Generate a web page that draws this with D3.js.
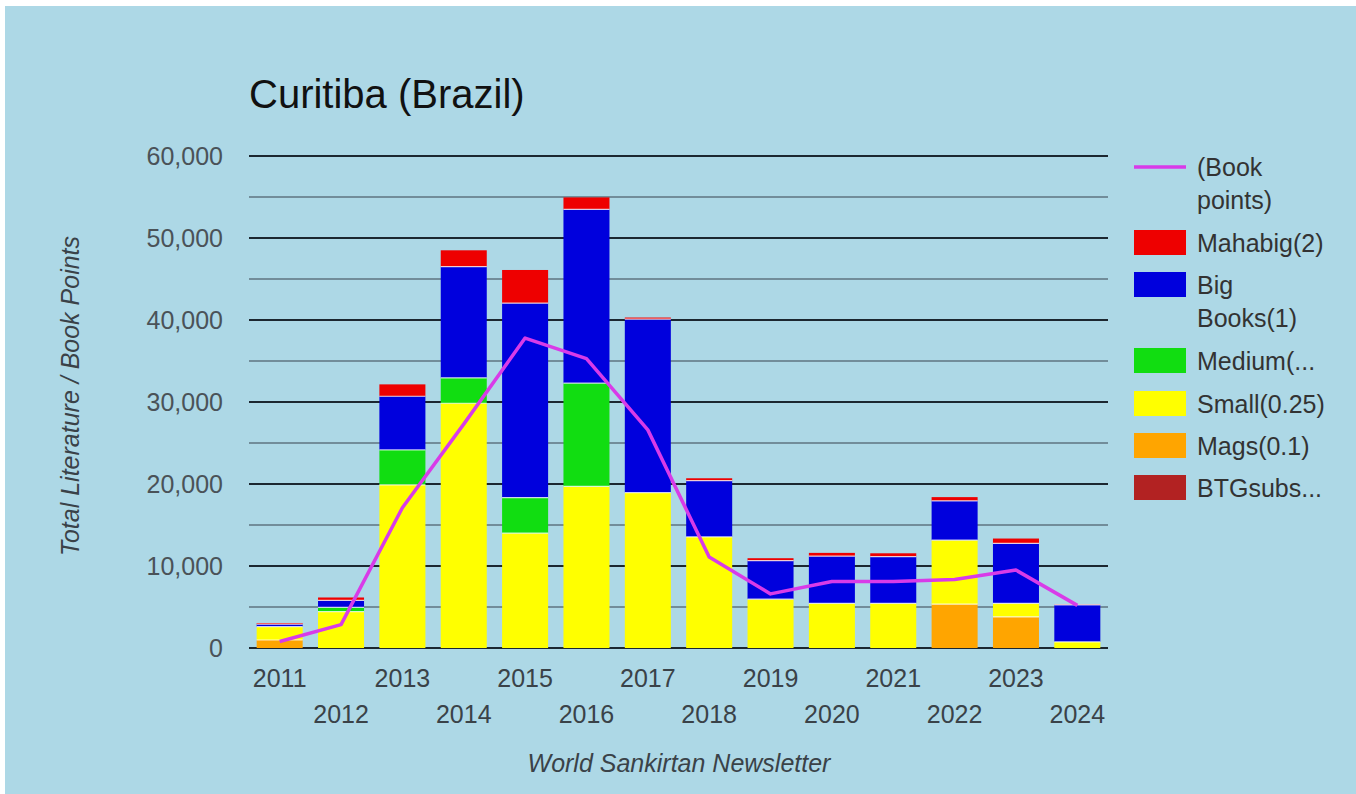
<!DOCTYPE html>
<html>
<head>
<meta charset="utf-8">
<script src="https://cdn.jsdelivr.net/npm/d3@7"></script>
<style>
  html, body { margin: 0; padding: 0; background: #ffffff; }
  svg { display: block; font-family: "Liberation Sans", Arial, sans-serif; }
</style>
</head>
<body>
<svg id="chart" width="1356" height="794"></svg>
<script>
// ---- Data ----
const years = ["2011","2012","2013","2014","2015","2016","2017","2018","2019","2020","2021","2022","2023","2024"];
const btgSubs = [0,0,0,0,0,0,0,0,0,0,0,0,0,0];
const mags    = [975,0,0,0,0,0,0,0,0,0,0,5350,3800,0];
const small   = [1625,4430,19900,29850,14000,19700,18950,13550,5950,5450,5450,7800,1650,750];
const medium  = [0,530,4250,3100,4350,12600,0,0,0,0,0,0,0,0];
const big     = [300,850,6550,13550,23700,21200,21150,6850,4700,5750,5700,4800,7300,4500];
const mahabig = [150,350,1450,2000,4050,1450,200,300,300,400,400,450,600,50];
const bookPoints = [800,2850,17100,27300,37800,35300,26600,11100,6600,8100,8100,8350,9500,5200];
const yTicks = [0,10000,20000,30000,40000,50000,60000];
const minorTicks = [5000,15000,25000,35000,45000,55000];

const seriesNames = ["BTGsubs...","Mags(0.1)","Small(0.25)","Medium(...","Big Books(1)","Mahabig(2)"];
const seriesColors = ["#b22222","#ffa500","#ffff00","#11dd11","#0000dd","#ee0000"];
const seriesValues = [btgSubs, mags, small, medium, big, mahabig];

const svg = d3.select("#chart");
const W = 1356, H = 794;

// background
svg.append("rect").attr("x",5).attr("y",6).attr("width",W-5).attr("height",H-6).attr("fill","#add8e6");

const x = d3.scaleBand().domain(years).range([249,1108]).paddingInner(0.25).paddingOuter(0.125);
const y = d3.scaleLinear().domain([0,60000]).range([648,156]);

// gridlines
svg.append("g").selectAll("line.minor").data(minorTicks).join("line")
  .attr("x1",249).attr("x2",1108).attr("y1",d=>y(d)).attr("y2",d=>y(d))
  .attr("stroke","#5f7580").attr("stroke-width",1.5);
svg.append("g").selectAll("line.major").data(yTicks).join("line")
  .attr("x1",249).attr("x2",1108).attr("y1",d=>y(d)).attr("y2",d=>y(d))
  .attr("stroke","#1c2730").attr("stroke-width",2);

// stacked bars
const table = years.map((yr,i)=>{
  const o = {year: yr};
  seriesNames.forEach((n,k)=>{ o[n] = seriesValues[k][i]; });
  return o;
});
const stack = d3.stack().keys(seriesNames)(table);
const gBars = svg.append("g");
stack.forEach((layer,k)=>{
  gBars.append("g").attr("fill",seriesColors[k]).selectAll("rect").data(layer).join("rect")
    .attr("x",d=>x(d.data.year)).attr("width",x.bandwidth())
    .attr("y",d=>y(d[1])).attr("height",d=>Math.max(0,y(d[0])-y(d[1])));
});
// thin light separators between stacked segments
stack.forEach((layer,k)=>{
  if (k===0) return;
  gBars.append("g").selectAll("line").data(layer.filter(d=>d[1]-d[0]>0 && d[0]>0)).join("line")
    .attr("x1",d=>x(d.data.year)).attr("x2",d=>x(d.data.year)+x.bandwidth())
    .attr("y1",d=>y(d[0])).attr("y2",d=>y(d[0]))
    .attr("stroke","#ffffff").attr("stroke-opacity",0.75).attr("stroke-width",1.2);
});

// book points line
const line = d3.line().x((d,i)=>x(years[i])+x.bandwidth()/2).y(d=>y(d));
svg.append("path").datum(bookPoints).attr("d",line)
  .attr("fill","none").attr("stroke","#d83be8").attr("stroke-width",3.5).attr("stroke-linejoin","round");

// y axis labels
const yAxis = svg.append("g").attr("transform","translate(249,0)")
  .call(d3.axisLeft(y).tickValues(yTicks).tickFormat(d3.format(",")).tickSize(0).tickPadding(26));
yAxis.select(".domain").remove();
yAxis.selectAll("text").attr("font-size",25).attr("fill","#4a5258").attr("font-family","Liberation Sans, Arial, sans-serif");

// x axis labels (two rows)
const xAxis = svg.append("g").attr("transform","translate(0,648)")
  .call(d3.axisBottom(x).tickSize(0));
xAxis.select(".domain").remove();
xAxis.selectAll("text").attr("font-size",25).attr("fill","#3a4248")
  .attr("font-family","Liberation Sans, Arial, sans-serif")
  .attr("dy","0.35em").attr("y",(d,i)=> i%2===0 ? 30 : 66);

// title
svg.append("text").attr("x",249).attr("y",108).attr("font-size",40).attr("fill","#111")
  .text("Curitiba (Brazil)");

// axis titles
svg.append("text").attr("transform","translate(79,396) rotate(-90)").attr("text-anchor","middle")
  .attr("font-size",25).attr("font-style","italic").attr("fill","#3a4248")
  .text("Total Literature / Book Points");
svg.append("text").attr("x",679).attr("y",772).attr("text-anchor","middle")
  .attr("font-size",25).attr("font-style","italic").attr("fill","#3a4248")
  .text("World Sankirtan Newsletter");

// legend
const lg = svg.append("g").attr("font-size",25).attr("fill","#333");
lg.append("line").attr("x1",1134).attr("x2",1186).attr("y1",167).attr("y2",167)
  .attr("stroke","#d83be8").attr("stroke-width",3.5);
lg.append("text").attr("x",1197).attr("y",167).attr("dy","0.35em").text("(Book");
lg.append("text").attr("x",1197).attr("y",200).attr("dy","0.35em").text("points)");
const legendItems = [
  {k:5, lines:["Mahabig(2)"], top:230},
  {k:4, lines:["Big","Books(1)"], top:272},
  {k:3, lines:["Medium(..."], top:348},
  {k:2, lines:["Small(0.25)"], top:391},
  {k:1, lines:["Mags(0.1)"], top:433},
  {k:0, lines:["BTGsubs..."], top:475}
];
legendItems.forEach(it=>{
  lg.append("rect").attr("x",1134).attr("y",it.top).attr("width",52).attr("height",25)
    .attr("fill",seriesColors[it.k]);
  it.lines.forEach((t,j)=>{
    lg.append("text").attr("x",1197).attr("y",it.top+13+j*33).attr("dy","0.35em").text(t);
  });
});
</script>
</body>
</html>
